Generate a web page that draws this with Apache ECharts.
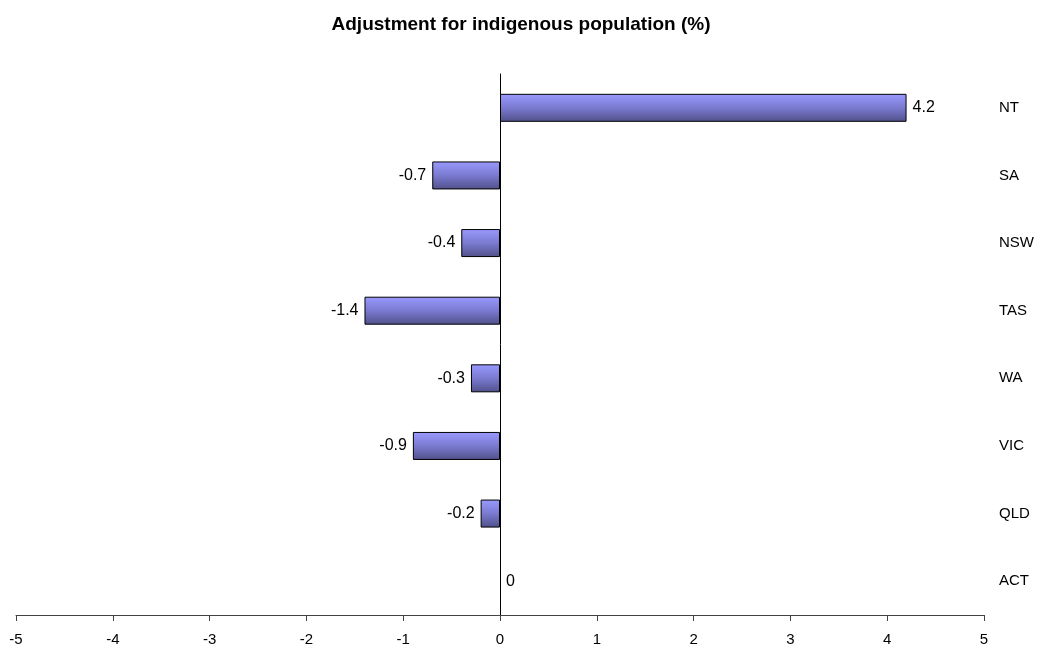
<!DOCTYPE html>
<html>
<head>
<meta charset="utf-8">
<script src="https://cdn.jsdelivr.net/npm/echarts@6/dist/echarts.min.js"></script>
<style>
  html, body { margin: 0; padding: 0; background: #fff; }
  #chart { width: 1042px; height: 655px; }
</style>
</head>
<body>
<div id="chart"></div>
<script>
// 类别（从下到上）
let states = ["ACT", "QLD", "VIC", "WA", "TAS", "NSW", "SA", "NT"];
// 调整值 %
let values = [0, -0.2, -0.9, -0.3, -1.4, -0.4, -0.7, 4.2];
let xTicks = [-5, -4, -3, -2, -1, 0, 1, 2, 3, 4, 5];

var myChart = echarts.init(document.getElementById("chart"));

var barColor = new echarts.graphic.LinearGradient(0, 0, 0, 1, [
    { offset: 0, color: "#9a9aff" },
    { offset: 0.5, color: "#7a7ad0" },
    { offset: 1, color: "#50508a" }
]);

var font = "Liberation Sans, Arial";

var option = {
    animation: false,
    title: {
        text: "Adjustment for indigenous population (%)",
        left: "center",
        top: 10,
        textStyle: { fontFamily: font, fontSize: 19, fontWeight: "bold", color: "#000" }
    },
    grid: { left: 16, right: 58, top: 74, bottom: 40, containLabel: false },
    xAxis: {
        type: "value",
        min: xTicks[0],
        max: xTicks[xTicks.length - 1],
        interval: 1,
        splitLine: { show: false },
        axisLine: { show: true, lineStyle: { color: "#444", width: 1 } },
        axisTick: { show: true, length: 6, lineStyle: { color: "#444" } },
        axisLabel: { color: "#000", fontSize: 15, fontFamily: font, margin: 17 }
    },
    yAxis: [{
        type: "category",
        data: states,
        axisLine: { show: true, onZero: true, lineStyle: { color: "#000" } },
        axisTick: { show: false },
        axisLabel: { show: false }
    }, {
        type: "category",
        data: states,
        position: "right",
        axisLine: { show: false },
        axisTick: { show: false },
        axisLabel: { show: true, margin: 15, color: "#000", fontSize: 15, fontFamily: font }
    }],
    series: [{
        type: "bar",
        yAxisIndex: 0,
        data: values.map(function (v) {
            return {
                value: v,
                itemStyle: v === 0 ? { borderWidth: 0, color: "transparent" } : {},
                label: { position: v < 0 ? "left" : "right" }
            };
        }),
        barWidth: 28,
        itemStyle: { color: barColor, borderColor: "#000", borderWidth: 1 },
        label: {
            show: true,
            distance: 6,
            color: "#000",
            fontSize: 16,
            fontFamily: font
        }
    }]
};

myChart.setOption(option);
</script>
</body>
</html>
